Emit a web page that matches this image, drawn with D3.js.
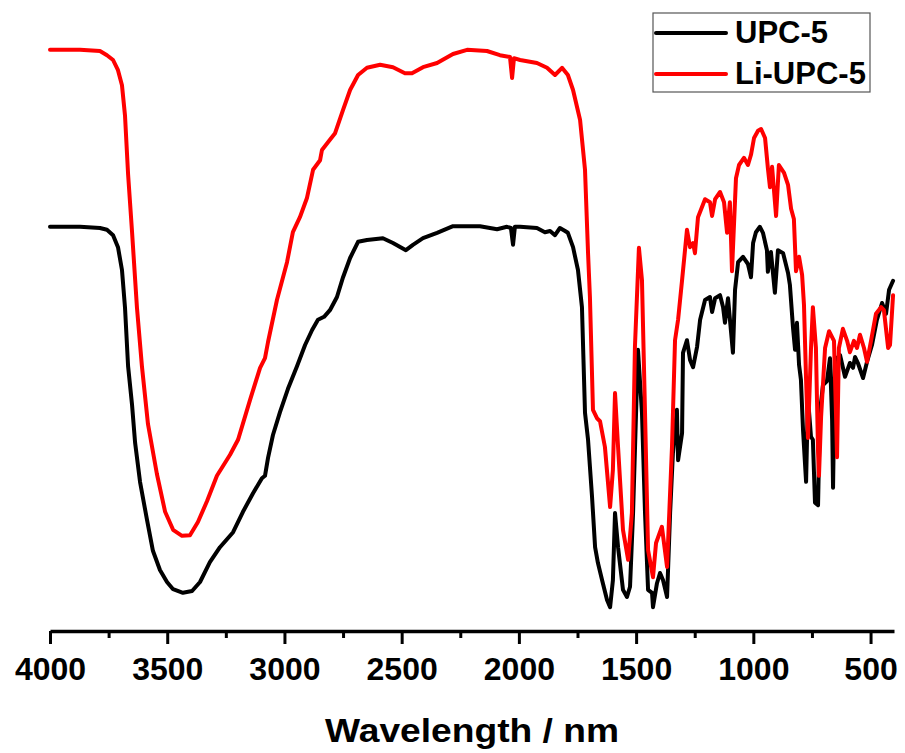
<!DOCTYPE html>
<html>
<head>
<meta charset="utf-8">
<script src="https://cdn.jsdelivr.net/npm/d3@7"></script>
<style>
  body { margin: 0; background: #fff; }
  svg { display: block; font-family: "Liberation Sans", Arial, sans-serif; }
</style>
</head>
<body>
<div id="viz"></div>
<script>
const width = 905;
const height = 753;
const margin = { top: 30, right: 11, bottom: 123, left: 50 };

// series names + colours
const seriesNames = ['UPC-5', 'Li-UPC-5'];
const seriesColors = ['#000000', '#ff0000'];

// axis ticks (wavenumber, reversed axis)
const majorTicks = [4000, 3500, 3000, 2500, 2000, 1500, 1000, 500];
const minorTicks = [3750, 3250, 2750, 2250, 1750, 1250, 750];

// UPC-5 : wavenumber / transmittance (a.u.)
const upcX = [4000, 3872, 3787, 3757, 3731, 3710, 3693, 3680, 3667, 3650, 3637, 3616, 3586, 3561, 3531, 3501, 3475, 3433, 3394, 3360,
  3318, 3275, 3219, 3177, 3134, 3096, 3083, 3070, 3049, 3019, 2985, 2946, 2912, 2882, 2857, 2831, 2806, 2776, 2750, 2720,
  2686, 2648, 2580, 2537, 2482, 2452, 2409, 2349, 2281, 2166, 2093, 2051, 2034, 2025, 2017, 1995, 1923, 1889, 1867, 1846,
  1825, 1803, 1791, 1769, 1748, 1731, 1718, 1705, 1688, 1675, 1663, 1645, 1624, 1611, 1599, 1590, 1577, 1556, 1539, 1526,
  1513, 1496, 1492, 1475, 1462, 1449, 1432, 1428, 1411, 1398, 1385, 1368, 1355, 1343, 1326, 1321, 1304, 1300, 1283, 1270,
  1257, 1240, 1227, 1206, 1185, 1176, 1163, 1142, 1129, 1121, 1108, 1087, 1078, 1065, 1044, 1023, 1010, 1001, 989, 972,
  959, 942, 938, 925, 908, 895, 873, 852, 844, 831, 822, 814, 805, 797, 788, 775, 767, 754, 746, 737,
  724, 716, 703, 686, 673, 664, 660, 652, 630, 609, 588, 575, 566, 554, 532, 515, 494, 473, 451, 434,
  421, 404];
const upcY = [67.2, 67.2, 67.0, 66.7, 65.8, 63.8, 60.0, 53.7, 44.0, 37.5, 31.2, 24.7, 18.3, 13.2, 10.0, 8.0, 6.8, 6.2, 6.5, 8.0,
  11.3, 13.8, 16.3, 19.7, 22.8, 25.3, 25.7, 28.7, 32.5, 36.3, 40.2, 44.0, 47.5, 50.0, 51.7, 52.2, 53.3, 55.5, 58.8, 62.0,
  64.7, 65.0, 65.3, 64.5, 63.3, 64.2, 65.3, 66.2, 67.3, 67.3, 66.8, 67.2, 67.0, 64.2, 67.2, 67.2, 67.0, 66.3, 66.5, 65.8,
  67.0, 66.5, 66.2, 63.8, 60.0, 53.8, 36.2, 31.7, 22.2, 13.8, 11.2, 8.3, 5.0, 3.8, 8.3, 19.5, 13.8, 6.7, 5.5, 7.2,
  19.5, 41.7, 46.7, 36.2, 19.5, 6.7, 6.2, 3.8, 7.8, 9.5, 8.3, 5.5, 19.5, 29.5, 36.7, 28.3, 32.8, 46.2, 48.3, 45.0,
  43.8, 47.2, 51.7, 55.0, 55.5, 53.0, 55.3, 55.8, 53.8, 51.2, 55.3, 46.2, 56.7, 61.3, 62.2, 61.0, 58.8, 64.5, 66.3, 67.2,
  66.2, 63.3, 59.7, 63.0, 56.2, 63.3, 62.8, 59.5, 57.5, 50.5, 46.7, 51.2, 44.2, 41.7, 33.3, 24.7, 38.7, 32.2, 31.7, 21.2,
  20.8, 36.2, 40.8, 41.5, 45.3, 35.0, 23.7, 45.0, 45.8, 42.2, 44.5, 43.7, 45.5, 44.5, 42.0, 44.7, 47.5, 51.7, 54.5, 52.7,
  56.7, 58.2];

// Li-UPC-5 : wavenumber / transmittance (a.u.)
const liX = [4000, 3872, 3787, 3757, 3731, 3710, 3693, 3680, 3667, 3650, 3629, 3608, 3582, 3544, 3509, 3475, 3437, 3403, 3369, 3330,
  3288, 3232, 3198, 3147, 3104, 3083, 3070, 3032, 2989, 2964, 2934, 2904, 2878, 2848, 2840, 2806, 2784, 2750, 2720, 2686,
  2648, 2592, 2537, 2486, 2456, 2409, 2349, 2281, 2221, 2136, 2081, 2038, 2029, 2021, 1995, 1923, 1880, 1846, 1816, 1791,
  1769, 1739, 1718, 1705, 1697, 1684, 1667, 1654, 1633, 1611, 1599, 1590, 1577, 1556, 1534, 1518, 1505, 1488, 1475, 1462,
  1449, 1428, 1415, 1390, 1368, 1347, 1334, 1321, 1304, 1283, 1270, 1257, 1249, 1236, 1206, 1185, 1176, 1163, 1142, 1125,
  1112, 1100, 1091, 1074, 1061, 1040, 1023, 1010, 997, 980, 967, 950, 938, 929, 920, 903, 891, 869, 852, 839,
  827, 818, 805, 792, 784, 775, 767, 754, 746, 733, 724, 720, 711, 694, 677, 656, 647, 643, 635, 618,
  600, 588, 571, 558, 545, 528, 515, 498, 477, 455, 443, 425, 417, 404];
const liY = [96.7, 96.7, 96.5, 95.8, 95.0, 93.3, 90.8, 85.7, 76.0, 66.3, 53.7, 44.0, 34.3, 26.0, 19.7, 16.7, 15.7, 15.8, 18.0, 21.5,
  25.7, 29.2, 31.7, 38.3, 43.7, 45.3, 48.0, 55.0, 61.3, 66.3, 68.8, 72.0, 76.7, 78.3, 80.0, 81.7, 82.8, 86.7, 90.0, 92.5,
  93.7, 94.2, 93.8, 92.8, 92.8, 93.8, 94.5, 96.0, 96.7, 96.5, 95.8, 95.5, 92.0, 95.3, 95.0, 94.5, 93.7, 92.5, 93.7, 92.5,
  90.0, 85.0, 76.7, 62.8, 55.5, 36.7, 35.3, 34.8, 30.5, 20.5, 26.7, 39.5, 30.5, 16.7, 11.7, 19.5, 47.2, 63.7, 58.3, 36.2,
  13.3, 8.8, 14.5, 17.2, 10.5, 30.5, 48.3, 51.7, 58.3, 66.7, 63.8, 64.5, 62.8, 68.8, 71.8, 71.3, 69.0, 71.8, 73.0, 71.3,
  66.2, 71.3, 59.8, 75.3, 77.5, 78.7, 77.5, 79.2, 82.0, 83.2, 83.5, 82.0, 77.0, 73.8, 77.2, 69.0, 77.5, 76.2, 74.2, 70.2,
  68.5, 59.8, 62.2, 59.2, 54.2, 41.7, 32.0, 47.0, 53.8, 47.0, 29.7, 25.7, 35.5, 47.0, 49.8, 48.2, 35.5, 28.8, 47.0, 50.2,
  48.2, 46.3, 48.2, 47.0, 49.2, 47.0, 44.7, 48.2, 52.7, 53.8, 53.3, 47.0, 47.5, 55.8];

const svg = d3.select('#viz')
  .append('svg')
    .attr('width', width)
    .attr('height', height);

const xScale = d3.scaleLinear()
  .domain([4000, 400])
  .range([margin.left, width - margin.right]);

const yScale = d3.scaleLinear()
  .domain([0, 100])
  .range([height - margin.bottom, margin.top]);

drawAxis();
drawSeries(upcX, upcY, seriesColors[0]);
drawSeries(liX, liY, seriesColors[1]);
drawLegend();

function drawSeries(xs, ys, color) {
  const pts = xs.map((d, i) => [d, ys[i]]);
  const line = d3.line()
    .x(d => xScale(d[0]))
    .y(d => yScale(d[1]));
  svg.append('path')
    .datum(pts)
    .attr('d', line)
    .attr('fill', 'none')
    .attr('stroke', color)
    .attr('stroke-width', 4)
    .attr('stroke-linejoin', 'round')
    .attr('stroke-linecap', 'round');
}

function drawAxis() {
  const axisY = height - margin.bottom + 1;

  const major = svg.append('g')
    .attr('transform', `translate(0, ${axisY})`)
    .call(d3.axisBottom(xScale).tickValues(majorTicks).tickSize(13).tickSizeOuter(0).tickFormat(d3.format('d')));
  major.select('.domain').attr('stroke-width', 3.5).attr('stroke', '#000');
  major.selectAll('.tick line').attr('stroke-width', 3).attr('stroke', '#000');
  major.selectAll('.tick text')
    .attr('y', 49)
    .attr('dy', 0)
    .attr('fill', '#000')
    .style('font-size', '32px')
    .style('font-weight', 'bold')
    .style('font-family', '"Liberation Sans", Arial, sans-serif');

  const minor = svg.append('g')
    .attr('transform', `translate(0, ${axisY})`)
    .call(d3.axisBottom(xScale).tickValues(minorTicks).tickSize(7).tickSizeOuter(0).tickFormat(''));
  minor.select('.domain').remove();
  minor.selectAll('.tick line').attr('stroke-width', 3).attr('stroke', '#000');

  svg.append('text')
    .attr('x', (xScale.range()[0] + xScale.range()[1]) / 2)
    .attr('y', 742)
    .attr('text-anchor', 'middle')
    .attr('textLength', 294)
    .attr('lengthAdjust', 'spacingAndGlyphs')
    .style('font-size', '33px')
    .style('font-weight', 'bold')
    .text('Wavelength / nm');
}

function drawLegend() {
  const lg = svg.append('g').attr('transform', 'translate(653, 13)');
  lg.append('rect')
    .attr('width', 217)
    .attr('height', 79)
    .attr('fill', '#fff')
    .attr('stroke', '#555')
    .attr('stroke-width', 1.2);

  seriesNames.forEach((name, i) => {
    const cy = 20 + i * 41;
    lg.append('line')
      .attr('x1', 3).attr('x2', 73)
      .attr('y1', cy).attr('y2', cy)
      .attr('stroke', seriesColors[i])
      .attr('stroke-width', 4)
      .attr('stroke-linecap', 'round');
    lg.append('text')
      .attr('x', 82)
      .attr('y', cy + 10)
      .style('font-size', '31px')
      .style('font-weight', 'bold')
      .text(name);
  });
}
</script>
</body>
</html>
